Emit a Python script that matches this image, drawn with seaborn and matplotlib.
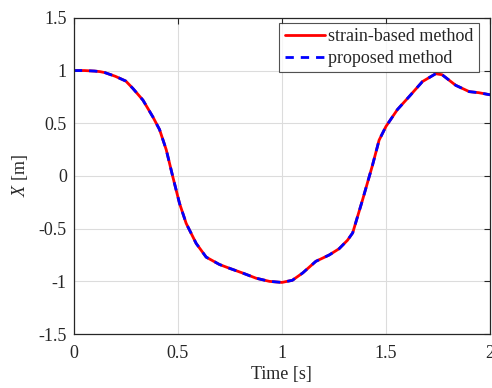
import numpy as np
import pandas as pd
import matplotlib
matplotlib.use("Agg")
import matplotlib.pyplot as plt
import seaborn as sns

time_s = [0.0, 0.05, 0.1, 0.125, 0.15, 0.2, 0.25, 0.284, 0.332, 0.38, 0.412,
          0.444, 0.476, 0.508, 0.54, 0.588, 0.636, 0.70, 0.748, 0.81, 0.876,
          0.94, 1.0, 1.05, 1.10, 1.163, 1.227, 1.275, 1.315, 1.34, 1.387,
          1.435, 1.467, 1.50, 1.555, 1.61, 1.675, 1.739, 1.77, 1.835, 1.90,
          1.946, 2.0]
x_strain = [1.0, 1.0, 0.995, 0.99, 0.98, 0.945, 0.9, 0.83, 0.72, 0.56, 0.44,
            0.25, -0.01, -0.26, -0.45, -0.64, -0.77, -0.84, -0.876, -0.92,
            -0.97, -1.0, -1.01, -0.99, -0.92, -0.81, -0.75, -0.69, -0.61,
            -0.54, -0.23, 0.1, 0.34, 0.47, 0.63, 0.75, 0.895, 0.97, 0.96,
            0.86, 0.80, 0.79, 0.77]
x_proposed = list(x_strain)

x_ticks = [0, 0.5, 1, 1.5, 2]
x_ticklabels = ["0", "0.5", "1", "1.5", "2"]
y_ticks = [-1.5, -1, -0.5, 0, 0.5, 1, 1.5]
y_ticklabels = ["-1.5", "-1", "-0.5", "0", "0.5", "1", "1.5"]

sns.set_style("white")
plt.rcParams["font.family"] = ["Liberation Serif", "DejaVu Serif"]
plt.rcParams["mathtext.fontset"] = "custom"
plt.rcParams["mathtext.it"] = "Liberation Serif:italic"
plt.rcParams["mathtext.rm"] = "Liberation Serif"

FS = 13
fig = plt.figure(figsize=(4.92, 3.88), dpi=100)
ax = fig.add_axes([0.150, 0.139, 0.846, 0.815])

df1 = pd.DataFrame({"t": time_s, "x": x_strain})
df2 = pd.DataFrame({"t": time_s, "x": x_proposed})
sns.lineplot(data=df1, x="t", y="x", ax=ax, color="#ff0000", linewidth=2.0,
             label="strain-based method", solid_joinstyle="round")
sns.lineplot(data=df2, x="t", y="x", ax=ax, color="#0000ff", linewidth=2.0,
             linestyle=(0, (3, 2.5)), label="proposed method",
             dash_joinstyle="round")

ax.set_xlim(0, 2)
ax.set_ylim(-1.5, 1.5)
ax.set_xticks(x_ticks)
ax.set_xticklabels(x_ticklabels)
ax.set_yticks(y_ticks)
ax.set_yticklabels(y_ticklabels)
ax.grid(True, color="#dcdcdc", linewidth=0.8)
ax.tick_params(direction="in", top=True, right=True, labelsize=FS,
               colors="#262626", length=4, width=0.8)
ax.tick_params(axis="x", pad=8)
ax.tick_params(axis="y", pad=5)
for sp in ax.spines.values():
    sp.set_color("#262626")
    sp.set_linewidth(0.9)
ax.set_xlabel("Time [s]", fontsize=FS, color="#262626", labelpad=3)
ax.set_ylabel(r"$X$ [m]", fontsize=FS, color="#262626", labelpad=6)

leg = ax.legend(loc="upper right", fontsize=FS, frameon=True, fancybox=False,
                edgecolor="#262626", borderpad=0.3, labelspacing=0.25,
                handlelength=2.2, handletextpad=0.2, borderaxespad=0,
                bbox_to_anchor=(479 / 492, 365 / 388),
                bbox_transform=fig.transFigure)
leg.get_frame().set_linewidth(0.8)
for t in leg.get_texts():
    t.set_color("#262626")

fig.savefig("out.png", dpi=100)
